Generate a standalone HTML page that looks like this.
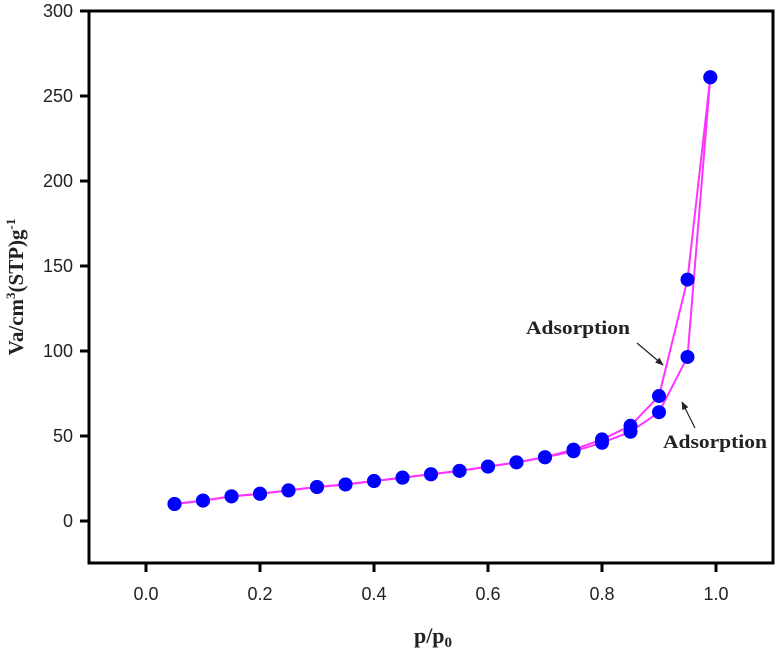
<!DOCTYPE html>
<html><head><meta charset="utf-8"><style>
body{margin:0;background:#fff;width:779px;height:652px;overflow:hidden}
svg text{font-family:"Liberation Sans",sans-serif}
.serif{font-family:"Liberation Serif",serif;font-weight:bold}
</style></head><body>
<svg id="chart" width="779" height="652" viewBox="0 0 779 652">
<defs><marker id="ah" viewBox="0 0 10 10" refX="9" refY="5" markerWidth="7" markerHeight="7" orient="auto"><path d="M0,1 L10,5 L0,9 z" fill="#222"/></marker></defs>
<g id="plot"></g>
<text class="serif" x="526" y="334" font-size="19" textLength="104" lengthAdjust="spacingAndGlyphs" fill="#222">Adsorption</text>
<line x1="637" y1="343" x2="663" y2="365" stroke="#222" stroke-width="1.2" marker-end="url(#ah)"/>
<text class="serif" x="663" y="448" font-size="19" textLength="104" lengthAdjust="spacingAndGlyphs" fill="#222">Adsorption</text>
<line x1="695" y1="428" x2="682" y2="402" stroke="#222" stroke-width="1.2" marker-end="url(#ah)"/>
<text class="serif" x="433" y="643" font-size="22" text-anchor="middle" fill="#222">p/p<tspan font-size="15" dy="4">0</tspan></text>
<text class="serif" transform="translate(23,287) rotate(-90)" font-size="21" text-anchor="middle" fill="#222">Va/cm<tspan font-size="13" dy="-8">3</tspan><tspan dy="8">(STP)g</tspan><tspan font-size="13" dy="-8">-1</tspan></text>
</svg>
<script>
const pressures=[0.05,0.1,0.15,0.2,0.25,0.3,0.35,0.4,0.45,0.5,0.55,0.6,0.65,0.7,0.75,0.8,0.85,0.9,0.95,0.99];
const adsorption=[10,12,14.5,16,18,20,21.5,23.5,25.5,27.5,29.5,32,34.5,37.5,41,46,52.5,64,96.5,261];
const desorption=[10,12,14.5,16,18,20,21.5,23.5,25.5,27.5,29.5,32,34.5,37.5,42,48,56,73.5,142,261];
const xTicks=[0.0,0.2,0.4,0.6,0.8,1.0];
const yTicks=[0,50,100,150,200,250,300];
const L=89,R=773,T=11,B=563;
const xs=v=>L+(v+0.1)/1.2*(R-L);
const ys=v=>521-(v)*1.7;
const NS="http://www.w3.org/2000/svg";
const g=document.getElementById('plot');
function mk(t,a){const e=document.createElementNS(NS,t);for(const k in a)e.setAttribute(k,a[k]);g.appendChild(e);return e;}
const frame=mk('rect',{x:L,y:T,width:R-L,height:B-T,fill:'none',stroke:'#000','stroke-width':3});


xTicks.forEach(v=>{
 const l=mk('line',{x1:xs(v),x2:xs(v),y1:B,y2:B+9,stroke:'#000','stroke-width':3});
 
 
 const t=mk('text',{x:xs(v),y:600,'font-size':18,'text-anchor':'middle',fill:'#222'});t.textContent=v.toFixed(1);
 
 
});
yTicks.forEach(v=>{
 const l=mk('line',{x1:L-9,x2:L,y1:ys(v),y2:ys(v),stroke:'#000','stroke-width':3});
 
 
 const t=mk('text',{x:L-16,y:ys(v)+6,'font-size':18,'text-anchor':'end',fill:'#222'});t.textContent=v;
 
 
});
[[adsorption,'adsorption'],[desorption,'desorption']].forEach(([arr,name])=>{
 const p=mk('polyline',{points:pressures.map((x,i)=>xs(x)+','+ys(arr[i])).join(' '),fill:'none',stroke:'#ff33ff','stroke-width':2});
 
 
});
[[adsorption,'adsorption'],[desorption,'desorption']].forEach(([arr,name])=>{
 pressures.forEach((x,i)=>{
  const c=mk('circle',{cx:xs(x),cy:ys(arr[i]),r:7,fill:'#0000ff'});
  
  
 });
});
</script>
</body></html>
